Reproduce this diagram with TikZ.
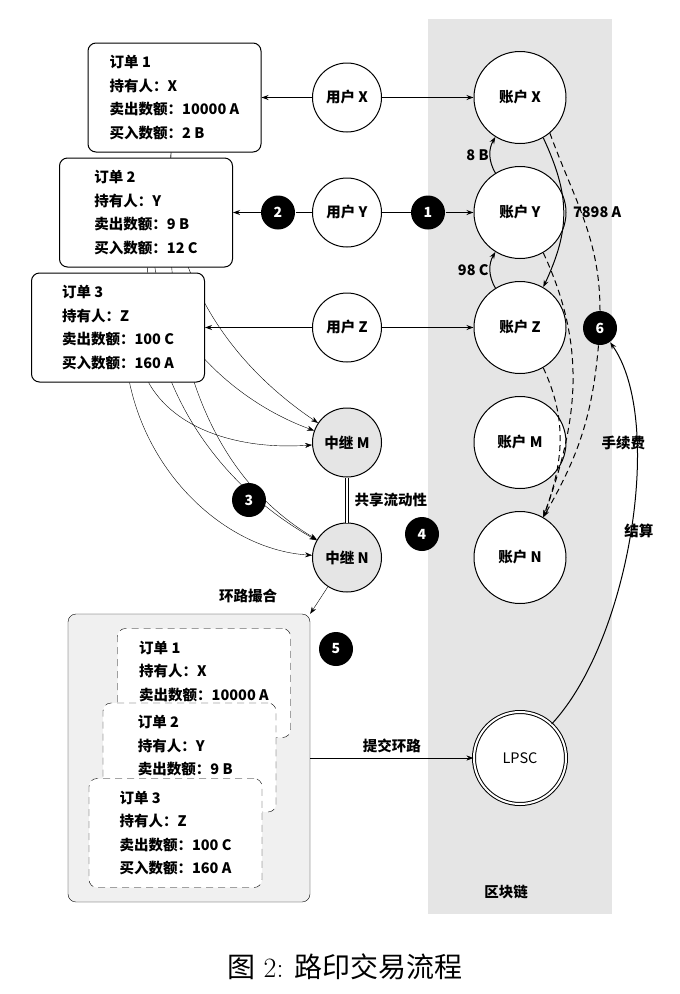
\documentclass[tikz,border=0pt]{standalone}
\usepackage{fontspec}
\usepackage{tikz}
\usetikzlibrary{arrows.meta}
\usetikzlibrary{backgrounds}
\newfontfamily\cjk{Noto Sans CJK SC}
\def\ordw{173pt}
\def\ordh{109pt}

\begin{document}
\begin{tikzpicture}[x=1pt, y=-1pt, line width=1pt,
		>={Stealth[length=7pt,width=5pt]},
		txt/.style={font=\cjk\bfseries\fontsize{14.5}{23.5}\selectfont},
		lbl/.style={txt, inner sep=1pt},
		order/.style={txt, draw, fill=white, rounded corners=8pt, align=left,
			minimum width=\ordw, minimum height=\ordh, inner sep=0pt},
		suborder/.style={order, dash pattern=on 7pt off 5pt},
		acct/.style={txt, circle, draw, fill=white, minimum size=92pt, inner sep=0pt},
		user/.style={acct, minimum size=69pt},
		relay/.style={user, fill=black!10},
		num/.style={circle, fill=black, text=white, minimum size=34pt, inner sep=0pt,
			font=\cjk\bfseries\fontsize{14}{14}\selectfont},
		dsh/.style={dash pattern=on 6pt off 4pt}]

	\useasboundingbox (0,0) rectangle (680,994);
	\fill[black!10] (428,19) rectangle (612,914);

	\node[acct] (ax) at (520,97.5) {账户 X};
	\node[acct] (ay) at (520,212.5) {账户 Y};
	\node[acct] (az) at (520,327.5) {账户 Z};
	\node[acct] (am) at (520,442.5) {账户 M};
	\node[acct] (an) at (520,557.5) {账户 N};
	\node[acct, double, double distance=2pt, font=\cjk\fontsize{14.5}{14.5}\selectfont] (lp) at (520,758) {LPSC};

	\node[user] (ux) at (347,97.5) {用户 X};
	\node[user] (uy) at (347,212.5) {用户 Y};
	\node[user] (uz) at (347,327.5) {用户 Z};
	\node[relay] (rm) at (347,442.5) {中继 M};
	\node[relay] (rn) at (347,557.5) {中继 N};

	\node[order] (o1) at (174.5,97.5) {订单 1\\持有人：X\\卖出数额：10000 A\\买入数额：2 B};
	\node[order] (o2) at (146,212.5) {订单 2\\持有人：Y\\卖出数额：9 B\\买入数额：12 C};
	\node[order] (o3) at (118,327.5) {订单 3\\持有人：Z\\卖出数额：100 C\\买入数额：160 A};

	\node[num] (n1) at (428,212.5) {1};
	\node[num] (n2) at (278,212.5) {2};
	\node[num] (n4) at (422,534) {4};
	\node[num] (n5) at (336,649) {5};
	\node[num] (n6) at (600,328) {6};

	\draw[->] (ux) -- (o1);
	\draw[->] (ux) -- (ax);
	\draw[->] (uy) -- (n2) -- (o2);
	\draw[->] (uy) -- (n1) -- (ay);
	\draw[->] (uz) -- (o3);
	\draw[->] (uz) -- (az);

	\draw[->] (ay.122) to[bend left=30] node[lbl, midway, left] {8 B} (ax.238);
	\draw[->] (az.122) to[bend left=30] node[lbl, midway, left] {98 C} (ay.238);
	\draw[->] (ax.-60) to[out=-65, in=65, looseness=1.1] node[lbl, midway, right=8pt] {7898 A} (az.60);

	\draw[dsh] (ax.-50) to[out=-70, in=90] (n6);
	\draw[dsh, ->] (n6) to[out=-95, in=60] (an.60);
	\draw[dsh, ->] (ay.-60) to[out=-65, in=70] (an.60);
	\draw[dsh, ->] (az.-60) to[out=-65, in=70] (an.60);

	\draw[->] (lp) .. controls (630,640) and (665,420) .. (n6)
		node[lbl, pos=0.7, xshift=-13pt] {手续费}
		node[lbl, pos=0.5, xshift=8pt] {结算};

	\draw[double, double distance=2.5pt] (rm) -- (rn) node[lbl, midway, right=6pt] {共享流动性};

	\begin{pgfonlayer}{background}
		\draw[->] (o1) .. controls (165,250) and (210,350) .. (rm);
		\draw[->] (o2) .. controls (165,330) and (230,400) .. (rm);
		\draw[->] (o3) .. controls (175,430) and (240,450) .. (rm);
		\draw[->] (o1) .. controls (160,330) and (200,470) .. (rn);
		\draw[->] (o2) .. controls (150,380) and (210,480) .. (rn);
		\draw[->] (o3) .. controls (150,480) and (230,550) .. (rn);
	\end{pgfonlayer}
	\node[num] (n3) at (249,500) {3};

	\node[draw, fill=black!6, rounded corners=8pt, minimum width=242pt, minimum height=288pt] (bx) at (189,758) {};
	\node[suborder] (d1) at (204,683) {订单 1\\持有人：X\\卖出数额：10000 A\\\phantom{买入数额：2 B}};
	\node[suborder] (d2) at (189.5,757.5) {订单 2\\持有人：Y\\卖出数额：9 B\\\phantom{买入数额：12 C}};
	\node[suborder] (d3) at (175.5,833) {订单 3\\持有人：Z\\卖出数额：100 C\\买入数额：160 A};

	\draw[->] (rn) -- (bx.north east);
	\node[lbl] (cm) at (248,596) {环路撮合};
	\draw[->] (bx) -- (lp) node[lbl, midway, above=4pt] {提交环路};

	\node[lbl] (bc) at (506,892) {区块链};
	\node[font=\fontsize{28}{30}\selectfont] (cap) at (345,967) {{\cjk 图} 2: {\cjk 路印交易流程}};
\end{tikzpicture}
\end{document}
